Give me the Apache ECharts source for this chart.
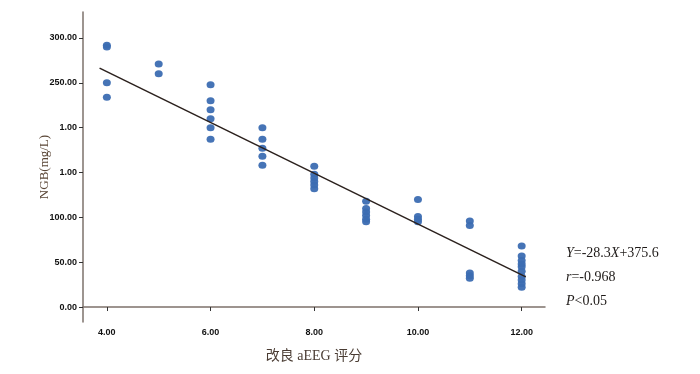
<!DOCTYPE html>
<html>
<head>
<meta charset="utf-8">
<script src="https://cdn.jsdelivr.net/npm/echarts@6/dist/echarts.min.js"></script>
<style>
  html, body { margin: 0; padding: 0; background: #fff; }
  #main { width: 700px; height: 374px; }
</style>
</head>
<body>
<div id="main"></div>
<script>
	// 散点数据：改良 aEEG 评分 (x) 与 NGB (y)
	var scoreX = [4, 4, 4, 4,
		5, 5,
		6, 6, 6, 6, 6, 6,
		7, 7, 7, 7, 7,
		8, 8, 8, 8, 8, 8,
		9, 9, 9, 9, 9, 9,
		10, 10, 10, 10,
		11, 11, 11, 11, 11,
		12, 12, 12, 12, 12, 12, 12, 12, 12, 12];
	var ngbY = [292, 290, 250, 234,
		271, 260,
		248, 230, 220, 210, 200, 187,
		200, 187, 177, 168, 158,
		157, 148, 144, 140, 136, 132,
		118, 110, 106, 102, 98, 95,
		120, 101, 98, 95,
		96, 91, 38, 35, 32,
		68, 57, 52, 48, 45, 40, 34, 30, 26, 22];
	// 回归线两端
	var fitX = [3.86, 12.08];
	var fitY = [266.4, 33.7];

	var xTicks = [4, 6, 8, 10, 12];
	var xTickLabels = ['4.00', '6.00', '8.00', '10.00', '12.00'];
	var yTicks = [0, 50, 100, 150, 200, 250, 300];
	var yTickLabels = ['0.00', '50.00', '100.00', '1.00', '1.00', '250.00', '300.00'];

	var scatterData = [];
	for (var i = 0; i < scoreX.length; i++) {
		scatterData.push([scoreX[i], ngbY[i]]);
	}
	var fitData = [];
	for (var j = 0; j < fitX.length; j++) {
		fitData.push([fitX[j], fitY[j]]);
	}

	var myChart = echarts.init(document.getElementById('main'));
	var axisColor = '#7d726b';
	var statStyle = function (txt) {
		return {
			text: txt,
			fontFamily: 'Liberation Serif',
			fontSize: 14,
			fill: '#1e1a18',
			rich: { i: { fontStyle: 'italic', fontFamily: 'Liberation Serif', fontSize: 14, fill: '#1e1a18' } }
		};
	};
	myChart.setOption({
		animation: false,
		backgroundColor: '#fff',
		grid: {
			left: 83,
			right: 155,
			top: 12,
			bottom: 52
		},
		xAxis: {
			type: 'value',
			min: 3.54,
			max: 12.45,
			name: '改良 aEEG 评分',
			nameLocation: 'middle',
			nameGap: 27,
			nameTextStyle: {
				fontFamily: '"Liberation Serif", "Noto Sans CJK SC"',
				fontSize: 14,
				color: '#4a3c33'
			},
			splitLine: { show: false },
			axisLine: { lineStyle: { color: axisColor, width: 1.5 } },
			axisTick: {
				customValues: xTicks,
				length: 4,
				lineStyle: { color: '#333', width: 1 }
			},
			axisLabel: {
				customValues: xTicks,
				margin: 6,
				fontFamily: 'Liberation Sans',
				fontWeight: 'bold',
				fontSize: 9,
				color: '#111',
				formatter: function (v) {
					return xTickLabels[xTicks.indexOf(v)];
				}
			}
		},
		yAxis: {
			type: 'value',
			min: -16.7,
			max: 329,
			name: 'NGB(mg/L)',
			nameLocation: 'middle',
			nameGap: 32,
			nameRotate: 90,
			nameMoveOverlap: false,
			nameTextStyle: {
				fontFamily: 'Liberation Serif',
				fontSize: 13,
				color: '#5a4636'
			},
			splitLine: { show: false },
			axisLine: { show: true, lineStyle: { color: axisColor, width: 1.5 } },
			axisTick: {
				show: true,
				customValues: yTicks,
				length: 4,
				lineStyle: { color: '#333', width: 1 }
			},
			axisLabel: {
				customValues: yTicks,
				margin: 6,
				fontFamily: 'Liberation Sans',
				fontWeight: 'bold',
				fontSize: 9,
				color: '#111',
				formatter: function (v) {
					return yTickLabels[yTicks.indexOf(v)];
				}
			}
		},
		series: [
			{
				type: 'scatter',
				data: scatterData,
				symbol: 'circle',
				symbolSize: [8, 7],
				itemStyle: { color: '#3c6db2', opacity: 0.95 },
				z: 2
			},
			{
				type: 'line',
				data: fitData,
				showSymbol: false,
				symbol: 'none',
				lineStyle: { color: '#2b211d', width: 1.5 },
				z: 3
			}
		],
		graphic: [
			{ type: 'text', left: 566, top: 246, style: statStyle('{i|Y}=-28.3{i|X}+375.6') },
			{ type: 'text', left: 566, top: 270, style: statStyle('{i|r}=-0.968') },
			{ type: 'text', left: 566, top: 294, style: statStyle('{i|P}<0.05') }
		]
	});
</script>
</body>
</html>
